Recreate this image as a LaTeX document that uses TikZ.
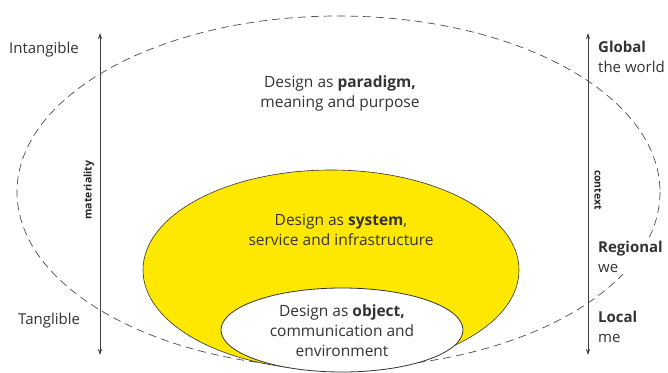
\documentclass[tikz,border=0pt]{standalone}
\usepackage{fontspec}
\setmainfont{Open Sans}
\usetikzlibrary{arrows.meta}
\definecolor{dyellow}{HTML}{FFE800}
\tikzset{
  axis/.style={draw=black!75, line width=0.8pt, {Stealth[length=6pt,width=4pt]}-{Stealth[length=6pt,width=4pt]}},
  lbl/.style={font=\fontsize{15}{18}\selectfont, text=black!80, inner sep=0pt},
  ctr/.style={font=\fontsize{15.5}{20}\selectfont, text=black!80, align=center, inner sep=0pt},
  side/.style={font=\fontsize{15}{20}\selectfont, text=black!80, align=left, inner sep=1pt, fill=white, anchor=north west},
  rot/.style={font=\bfseries\fontsize{10.5}{11}\selectfont, text=black!85, inner sep=0pt}
}
\begin{document}
\begin{tikzpicture}[x=1pt,y=-1pt]
\useasboundingbox (0,0) rectangle (668,372);
% outer dashed ellipse
\draw[black!70, dash pattern=on 8pt off 5pt, line width=0.7pt] (338.5,192) ellipse [x radius=321.5, y radius=176];
% yellow ellipse
\filldraw[fill=dyellow, draw=black!80, line width=0.6pt] (331,270) ellipse [x radius=188, y radius=100];
% white ellipse
\filldraw[fill=white, draw=black!80, line width=0.8pt] (342,330) ellipse [x radius=121, y radius=42];
% axes
\coordinate (la) at (100,33);
\coordinate (lb) at (100,355);
\coordinate (ra) at (588,33);
\coordinate (rb) at (588,355);
\draw[axis] (lb) -- (la);
\draw[axis] (ra) -- (rb);
\node[rot, rotate=90] (mat) at (89,190) {materiality};
\node[rot, rotate=-90] (ctx) at (598,190) {context};
% left labels
\node[lbl, anchor=west] (intang) at (9,50) {Intangible};
\node[lbl, anchor=west] (tang) at (18,321) {Tanglible};
% right labels
\node[side] (glob) at (597,40) {\textbf{Global}\\the world};
\node[side] (reg) at (597,240) {\textbf{Regional}\\we};
\node[side] (loc) at (597,310) {\textbf{Local}\\me};
% center texts
\node[ctr] (par) at (340,93) {Design as \textbf{paradigm,}\\meaning and purpose};
\node[ctr] (sys) at (341,230) {Design as \textbf{system},\\service and infrastructure};
\node[ctr] (obj) at (342,331) {Design as \textbf{object,}\\communication and\\environment};
\end{tikzpicture}
\end{document}
